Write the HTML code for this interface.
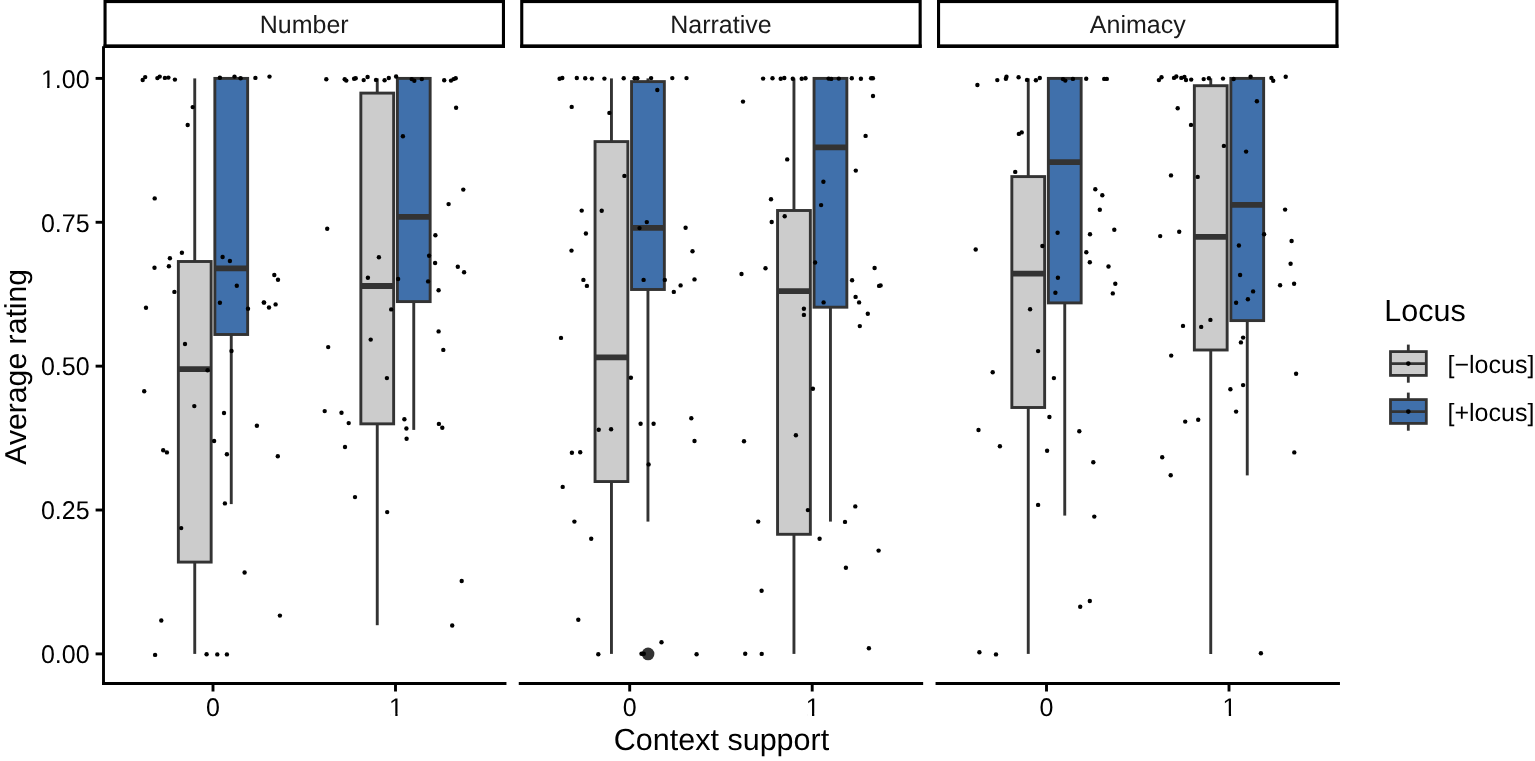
<!DOCTYPE html><html><head><meta charset="utf-8"><style>html,body{margin:0;padding:0;background:#fff;}svg{display:block;}text{font-family:"Liberation Sans",Arial,sans-serif;text-rendering:geometricPrecision;}</style></head><body>
<svg width="1535" height="761" viewBox="0 0 1535 761">
<rect width="1535" height="761" fill="#fff"/>
<g stroke="#333333" stroke-width="2.9" fill="none">
<line x1="194.75" y1="78.4" x2="194.75" y2="261.5"/>
<line x1="194.75" y1="562.1" x2="194.75" y2="653.9"/>
<rect x="178.35" y="261.5" width="32.80" height="300.60" fill="#cccccc"/>
<line x1="178.35" y1="369.2" x2="211.15" y2="369.2" stroke-width="5.80"/>
</g>
<g stroke="#333333" stroke-width="2.9" fill="none">
<line x1="231.25" y1="334.5" x2="231.25" y2="504.1"/>
<rect x="214.85" y="78.4" width="32.80" height="256.10" fill="#4070ab"/>
<line x1="214.85" y1="268.3" x2="247.65" y2="268.3" stroke-width="5.80"/>
</g>
<g stroke="#333333" stroke-width="2.9" fill="none">
<line x1="377.25" y1="78.4" x2="377.25" y2="93.1"/>
<line x1="377.25" y1="423.85" x2="377.25" y2="625.2"/>
<rect x="360.85" y="93.1" width="32.80" height="330.75" fill="#cccccc"/>
<line x1="360.85" y1="286.0" x2="393.65" y2="286.0" stroke-width="5.80"/>
</g>
<g stroke="#333333" stroke-width="2.9" fill="none">
<line x1="413.75" y1="301.6" x2="413.75" y2="429.9"/>
<rect x="397.35" y="78.4" width="32.80" height="223.20" fill="#4070ab"/>
<line x1="397.35" y1="216.8" x2="430.15" y2="216.8" stroke-width="5.80"/>
</g>
<g stroke="#333333" stroke-width="2.9" fill="none">
<line x1="611.45" y1="78.4" x2="611.45" y2="141.6"/>
<line x1="611.45" y1="481.55" x2="611.45" y2="653.9"/>
<rect x="595.05" y="141.6" width="32.80" height="339.95" fill="#cccccc"/>
<line x1="595.05" y1="357.3" x2="627.85" y2="357.3" stroke-width="5.80"/>
</g>
<g stroke="#333333" stroke-width="2.9" fill="none">
<line x1="647.95" y1="78.4" x2="647.95" y2="81.6"/>
<line x1="647.95" y1="289.5" x2="647.95" y2="521.6"/>
<rect x="631.55" y="81.6" width="32.80" height="207.90" fill="#4070ab"/>
<line x1="631.55" y1="227.8" x2="664.35" y2="227.8" stroke-width="5.80"/>
</g>
<g stroke="#333333" stroke-width="2.9" fill="none">
<line x1="793.95" y1="78.4" x2="793.95" y2="210.5"/>
<line x1="793.95" y1="534.3" x2="793.95" y2="653.9"/>
<rect x="777.55" y="210.5" width="32.80" height="323.80" fill="#cccccc"/>
<line x1="777.55" y1="291.2" x2="810.35" y2="291.2" stroke-width="5.80"/>
</g>
<g stroke="#333333" stroke-width="2.9" fill="none">
<line x1="830.45" y1="307.2" x2="830.45" y2="521.6"/>
<rect x="814.05" y="78.4" width="32.80" height="228.80" fill="#4070ab"/>
<line x1="814.05" y1="147.4" x2="846.85" y2="147.4" stroke-width="5.80"/>
</g>
<g stroke="#333333" stroke-width="2.9" fill="none">
<line x1="1028.25" y1="78.4" x2="1028.25" y2="176.6"/>
<line x1="1028.25" y1="407.5" x2="1028.25" y2="653.9"/>
<rect x="1011.85" y="176.6" width="32.80" height="230.90" fill="#cccccc"/>
<line x1="1011.85" y1="273.7" x2="1044.65" y2="273.7" stroke-width="5.80"/>
</g>
<g stroke="#333333" stroke-width="2.9" fill="none">
<line x1="1064.75" y1="302.9" x2="1064.75" y2="515.6"/>
<rect x="1048.35" y="78.4" width="32.80" height="224.50" fill="#4070ab"/>
<line x1="1048.35" y1="162.1" x2="1081.15" y2="162.1" stroke-width="5.80"/>
</g>
<g stroke="#333333" stroke-width="2.9" fill="none">
<line x1="1210.75" y1="78.4" x2="1210.75" y2="85.7"/>
<line x1="1210.75" y1="350.0" x2="1210.75" y2="653.9"/>
<rect x="1194.35" y="85.7" width="32.80" height="264.30" fill="#cccccc"/>
<line x1="1194.35" y1="236.8" x2="1227.15" y2="236.8" stroke-width="5.80"/>
</g>
<g stroke="#333333" stroke-width="2.9" fill="none">
<line x1="1247.25" y1="320.6" x2="1247.25" y2="475.4"/>
<rect x="1230.85" y="78.4" width="32.80" height="242.20" fill="#4070ab"/>
<line x1="1230.85" y1="204.8" x2="1263.65" y2="204.8" stroke-width="5.80"/>
</g>
<circle cx="648.05" cy="653.9" r="6.35" fill="#333333"/>
<g fill="#000">
<circle cx="142.7" cy="80.0" r="2.2"/>
<circle cx="145.2" cy="77.1" r="2.2"/>
<circle cx="157.4" cy="78.1" r="2.2"/>
<circle cx="159.7" cy="76.6" r="2.2"/>
<circle cx="164.9" cy="77.9" r="2.2"/>
<circle cx="168.4" cy="77.6" r="2.2"/>
<circle cx="174.9" cy="79.6" r="2.2"/>
<circle cx="192.7" cy="107.1" r="2.2"/>
<circle cx="187.7" cy="125.0" r="2.2"/>
<circle cx="219.9" cy="77.7" r="2.2"/>
<circle cx="234.5" cy="76.6" r="2.2"/>
<circle cx="240.6" cy="78.2" r="2.2"/>
<circle cx="255.4" cy="77.9" r="2.2"/>
<circle cx="269.5" cy="76.6" r="2.2"/>
<circle cx="154.7" cy="198.4" r="2.2"/>
<circle cx="219.9" cy="302.8" r="2.2"/>
<circle cx="248.0" cy="308.8" r="2.2"/>
<circle cx="264.1" cy="302.6" r="2.2"/>
<circle cx="269.0" cy="307.5" r="2.2"/>
<circle cx="275.6" cy="304.4" r="2.2"/>
<circle cx="185.0" cy="344.0" r="2.2"/>
<circle cx="231.5" cy="351.0" r="2.2"/>
<circle cx="207.6" cy="370.2" r="2.2"/>
<circle cx="194.3" cy="406.1" r="2.2"/>
<circle cx="224.0" cy="413.0" r="2.2"/>
<circle cx="256.9" cy="425.8" r="2.2"/>
<circle cx="181.9" cy="252.7" r="2.2"/>
<circle cx="169.9" cy="258.2" r="2.2"/>
<circle cx="154.5" cy="267.7" r="2.2"/>
<circle cx="168.9" cy="266.2" r="2.2"/>
<circle cx="174.4" cy="291.9" r="2.2"/>
<circle cx="146.0" cy="307.7" r="2.2"/>
<circle cx="222.6" cy="257.0" r="2.2"/>
<circle cx="229.9" cy="261.0" r="2.2"/>
<circle cx="236.8" cy="285.7" r="2.2"/>
<circle cx="278.0" cy="279.7" r="2.2"/>
<circle cx="274.3" cy="275.0" r="2.2"/>
<circle cx="263.8" cy="302.4" r="2.2"/>
<circle cx="144.2" cy="391.3" r="2.2"/>
<circle cx="214.1" cy="441.0" r="2.2"/>
<circle cx="163.2" cy="450.2" r="2.2"/>
<circle cx="166.9" cy="452.4" r="2.2"/>
<circle cx="226.9" cy="454.2" r="2.2"/>
<circle cx="277.8" cy="456.2" r="2.2"/>
<circle cx="224.9" cy="503.4" r="2.2"/>
<circle cx="181.2" cy="528.1" r="2.2"/>
<circle cx="244.6" cy="572.5" r="2.2"/>
<circle cx="161.3" cy="620.5" r="2.2"/>
<circle cx="155.1" cy="654.9" r="2.2"/>
<circle cx="206.6" cy="654.2" r="2.2"/>
<circle cx="217.3" cy="654.4" r="2.2"/>
<circle cx="226.9" cy="654.4" r="2.2"/>
<circle cx="279.9" cy="615.6" r="2.2"/>
<circle cx="326.3" cy="79.3" r="2.2"/>
<circle cx="344.7" cy="79.3" r="2.2"/>
<circle cx="346.3" cy="80.6" r="2.2"/>
<circle cx="354.1" cy="78.8" r="2.2"/>
<circle cx="355.7" cy="78.3" r="2.2"/>
<circle cx="363.7" cy="80.1" r="2.2"/>
<circle cx="367.6" cy="77.0" r="2.2"/>
<circle cx="376.0" cy="79.9" r="2.2"/>
<circle cx="384.6" cy="80.3" r="2.2"/>
<circle cx="388.8" cy="78.0" r="2.2"/>
<circle cx="396.1" cy="76.5" r="2.2"/>
<circle cx="411.7" cy="79.1" r="2.2"/>
<circle cx="414.3" cy="80.8" r="2.2"/>
<circle cx="421.8" cy="79.1" r="2.2"/>
<circle cx="444.2" cy="80.2" r="2.2"/>
<circle cx="451.0" cy="80.6" r="2.2"/>
<circle cx="453.6" cy="79.1" r="2.2"/>
<circle cx="455.7" cy="78.3" r="2.2"/>
<circle cx="456.1" cy="107.7" r="2.2"/>
<circle cx="402.9" cy="136.2" r="2.2"/>
<circle cx="463.3" cy="189.6" r="2.2"/>
<circle cx="448.6" cy="204.1" r="2.2"/>
<circle cx="327.2" cy="228.8" r="2.2"/>
<circle cx="435.4" cy="235.2" r="2.2"/>
<circle cx="378.9" cy="257.2" r="2.2"/>
<circle cx="429.1" cy="255.7" r="2.2"/>
<circle cx="435.1" cy="263.0" r="2.2"/>
<circle cx="457.8" cy="266.7" r="2.2"/>
<circle cx="464.1" cy="272.2" r="2.2"/>
<circle cx="367.9" cy="277.7" r="2.2"/>
<circle cx="398.1" cy="279.0" r="2.2"/>
<circle cx="428.1" cy="281.4" r="2.2"/>
<circle cx="438.6" cy="290.2" r="2.2"/>
<circle cx="391.2" cy="309.4" r="2.2"/>
<circle cx="438.6" cy="331.4" r="2.2"/>
<circle cx="328.2" cy="347.1" r="2.2"/>
<circle cx="370.7" cy="339.6" r="2.2"/>
<circle cx="443.3" cy="349.9" r="2.2"/>
<circle cx="386.9" cy="378.1" r="2.2"/>
<circle cx="324.7" cy="411.1" r="2.2"/>
<circle cx="341.5" cy="412.8" r="2.2"/>
<circle cx="348.7" cy="423.1" r="2.2"/>
<circle cx="404.4" cy="419.3" r="2.2"/>
<circle cx="438.9" cy="423.9" r="2.2"/>
<circle cx="442.3" cy="427.7" r="2.2"/>
<circle cx="406.4" cy="428.5" r="2.2"/>
<circle cx="406.6" cy="438.7" r="2.2"/>
<circle cx="345.0" cy="447.0" r="2.2"/>
<circle cx="355.0" cy="497.1" r="2.2"/>
<circle cx="387.2" cy="512.1" r="2.2"/>
<circle cx="461.7" cy="581.0" r="2.2"/>
<circle cx="452.2" cy="625.5" r="2.2"/>
<circle cx="571.7" cy="106.9" r="2.2"/>
<circle cx="609.4" cy="112.9" r="2.2"/>
<circle cx="657.3" cy="90.0" r="2.2"/>
<circle cx="624.4" cy="175.9" r="2.2"/>
<circle cx="581.7" cy="210.6" r="2.2"/>
<circle cx="601.7" cy="210.8" r="2.2"/>
<circle cx="585.9" cy="233.5" r="2.2"/>
<circle cx="646.8" cy="222.1" r="2.2"/>
<circle cx="639.5" cy="228.1" r="2.2"/>
<circle cx="685.6" cy="227.8" r="2.2"/>
<circle cx="571.5" cy="250.6" r="2.2"/>
<circle cx="692.5" cy="251.2" r="2.2"/>
<circle cx="559.6" cy="78.8" r="2.2"/>
<circle cx="562.3" cy="78.0" r="2.2"/>
<circle cx="576.8" cy="78.0" r="2.2"/>
<circle cx="585.2" cy="78.2" r="2.2"/>
<circle cx="591.9" cy="78.6" r="2.2"/>
<circle cx="604.4" cy="78.6" r="2.2"/>
<circle cx="623.7" cy="78.3" r="2.2"/>
<circle cx="634.6" cy="78.3" r="2.2"/>
<circle cx="637.3" cy="78.3" r="2.2"/>
<circle cx="651.1" cy="78.1" r="2.2"/>
<circle cx="672.3" cy="78.1" r="2.2"/>
<circle cx="686.5" cy="78.1" r="2.2"/>
<circle cx="583.4" cy="279.9" r="2.2"/>
<circle cx="586.9" cy="285.9" r="2.2"/>
<circle cx="643.6" cy="279.9" r="2.2"/>
<circle cx="664.8" cy="279.9" r="2.2"/>
<circle cx="694.5" cy="279.4" r="2.2"/>
<circle cx="680.6" cy="285.4" r="2.2"/>
<circle cx="673.8" cy="291.9" r="2.2"/>
<circle cx="561.0" cy="337.9" r="2.2"/>
<circle cx="630.9" cy="377.8" r="2.2"/>
<circle cx="640.6" cy="423.8" r="2.2"/>
<circle cx="653.6" cy="423.8" r="2.2"/>
<circle cx="691.3" cy="418.3" r="2.2"/>
<circle cx="598.7" cy="429.7" r="2.2"/>
<circle cx="611.1" cy="429.2" r="2.2"/>
<circle cx="694.5" cy="441.0" r="2.2"/>
<circle cx="571.9" cy="452.7" r="2.2"/>
<circle cx="580.2" cy="452.2" r="2.2"/>
<circle cx="648.6" cy="464.4" r="2.2"/>
<circle cx="562.7" cy="486.9" r="2.2"/>
<circle cx="574.4" cy="521.6" r="2.2"/>
<circle cx="591.2" cy="538.8" r="2.2"/>
<circle cx="578.3" cy="619.8" r="2.2"/>
<circle cx="598.3" cy="654.2" r="2.2"/>
<circle cx="661.5" cy="642.3" r="2.2"/>
<circle cx="696.6" cy="654.2" r="2.2"/>
<circle cx="641.5" cy="653.8" r="2.2"/>
<circle cx="643.8" cy="653.8" r="2.2"/>
<circle cx="743.0" cy="101.6" r="2.2"/>
<circle cx="873.0" cy="96.0" r="2.2"/>
<circle cx="865.6" cy="135.9" r="2.2"/>
<circle cx="787.2" cy="159.4" r="2.2"/>
<circle cx="855.8" cy="170.6" r="2.2"/>
<circle cx="823.4" cy="181.8" r="2.2"/>
<circle cx="771.0" cy="199.3" r="2.2"/>
<circle cx="821.1" cy="205.1" r="2.2"/>
<circle cx="784.7" cy="216.3" r="2.2"/>
<circle cx="771.7" cy="222.0" r="2.2"/>
<circle cx="763.1" cy="78.6" r="2.2"/>
<circle cx="772.5" cy="78.3" r="2.2"/>
<circle cx="780.7" cy="78.8" r="2.2"/>
<circle cx="784.3" cy="78.0" r="2.2"/>
<circle cx="792.8" cy="78.8" r="2.2"/>
<circle cx="801.7" cy="78.8" r="2.2"/>
<circle cx="805.5" cy="78.3" r="2.2"/>
<circle cx="828.6" cy="78.6" r="2.2"/>
<circle cx="831.2" cy="78.9" r="2.2"/>
<circle cx="838.8" cy="78.6" r="2.2"/>
<circle cx="851.8" cy="78.3" r="2.2"/>
<circle cx="860.9" cy="78.8" r="2.2"/>
<circle cx="871.1" cy="78.3" r="2.2"/>
<circle cx="872.9" cy="78.3" r="2.2"/>
<circle cx="741.5" cy="274.0" r="2.2"/>
<circle cx="765.5" cy="268.2" r="2.2"/>
<circle cx="815.1" cy="262.5" r="2.2"/>
<circle cx="874.6" cy="268.0" r="2.2"/>
<circle cx="852.1" cy="280.2" r="2.2"/>
<circle cx="880.6" cy="285.4" r="2.2"/>
<circle cx="879.1" cy="285.9" r="2.2"/>
<circle cx="855.6" cy="296.9" r="2.2"/>
<circle cx="859.1" cy="302.4" r="2.2"/>
<circle cx="823.6" cy="302.4" r="2.2"/>
<circle cx="867.8" cy="313.7" r="2.2"/>
<circle cx="859.8" cy="326.1" r="2.2"/>
<circle cx="803.9" cy="308.7" r="2.2"/>
<circle cx="803.9" cy="314.9" r="2.2"/>
<circle cx="812.9" cy="388.8" r="2.2"/>
<circle cx="744.0" cy="441.2" r="2.2"/>
<circle cx="795.9" cy="435.2" r="2.2"/>
<circle cx="807.9" cy="510.1" r="2.2"/>
<circle cx="758.2" cy="521.6" r="2.2"/>
<circle cx="855.3" cy="506.4" r="2.2"/>
<circle cx="845.0" cy="521.9" r="2.2"/>
<circle cx="819.6" cy="538.8" r="2.2"/>
<circle cx="878.6" cy="550.6" r="2.2"/>
<circle cx="845.9" cy="567.8" r="2.2"/>
<circle cx="761.6" cy="590.8" r="2.2"/>
<circle cx="745.2" cy="653.7" r="2.2"/>
<circle cx="761.7" cy="653.9" r="2.2"/>
<circle cx="868.9" cy="648.2" r="2.2"/>
<circle cx="977.4" cy="85.0" r="2.2"/>
<circle cx="1018.9" cy="133.9" r="2.2"/>
<circle cx="1021.7" cy="132.4" r="2.2"/>
<circle cx="1015.2" cy="171.9" r="2.2"/>
<circle cx="1095.3" cy="189.3" r="2.2"/>
<circle cx="1102.3" cy="195.3" r="2.2"/>
<circle cx="1099.8" cy="209.8" r="2.2"/>
<circle cx="1057.6" cy="232.8" r="2.2"/>
<circle cx="1090.0" cy="234.3" r="2.2"/>
<circle cx="1114.3" cy="229.8" r="2.2"/>
<circle cx="975.7" cy="249.5" r="2.2"/>
<circle cx="1042.4" cy="246.0" r="2.2"/>
<circle cx="997.3" cy="80.1" r="2.2"/>
<circle cx="1005.9" cy="78.8" r="2.2"/>
<circle cx="1006.5" cy="76.8" r="2.2"/>
<circle cx="1018.6" cy="77.2" r="2.2"/>
<circle cx="1027.0" cy="79.9" r="2.2"/>
<circle cx="1035.9" cy="80.3" r="2.2"/>
<circle cx="1039.8" cy="78.0" r="2.2"/>
<circle cx="1063.0" cy="79.1" r="2.2"/>
<circle cx="1065.3" cy="80.6" r="2.2"/>
<circle cx="1072.9" cy="78.9" r="2.2"/>
<circle cx="1086.2" cy="78.8" r="2.2"/>
<circle cx="1104.2" cy="78.9" r="2.2"/>
<circle cx="1106.8" cy="78.9" r="2.2"/>
<circle cx="1086.3" cy="252.2" r="2.2"/>
<circle cx="1089.8" cy="262.2" r="2.2"/>
<circle cx="1108.5" cy="266.5" r="2.2"/>
<circle cx="1115.3" cy="283.7" r="2.2"/>
<circle cx="1112.8" cy="293.4" r="2.2"/>
<circle cx="1057.9" cy="277.7" r="2.2"/>
<circle cx="1055.4" cy="292.7" r="2.2"/>
<circle cx="1030.1" cy="309.2" r="2.2"/>
<circle cx="1038.1" cy="351.1" r="2.2"/>
<circle cx="992.7" cy="372.3" r="2.2"/>
<circle cx="1053.9" cy="378.1" r="2.2"/>
<circle cx="1049.4" cy="417.0" r="2.2"/>
<circle cx="978.5" cy="430.0" r="2.2"/>
<circle cx="999.9" cy="446.2" r="2.2"/>
<circle cx="1047.1" cy="450.7" r="2.2"/>
<circle cx="1079.3" cy="431.2" r="2.2"/>
<circle cx="1093.3" cy="462.2" r="2.2"/>
<circle cx="1038.1" cy="504.9" r="2.2"/>
<circle cx="1094.3" cy="516.6" r="2.2"/>
<circle cx="979.4" cy="652.2" r="2.2"/>
<circle cx="996.0" cy="654.4" r="2.2"/>
<circle cx="1080.2" cy="606.7" r="2.2"/>
<circle cx="1089.8" cy="601.0" r="2.2"/>
<circle cx="1177.7" cy="108.2" r="2.2"/>
<circle cx="1191.0" cy="124.9" r="2.2"/>
<circle cx="1223.9" cy="145.9" r="2.2"/>
<circle cx="1246.1" cy="151.6" r="2.2"/>
<circle cx="1256.9" cy="101.2" r="2.2"/>
<circle cx="1171.0" cy="175.4" r="2.2"/>
<circle cx="1197.7" cy="176.9" r="2.2"/>
<circle cx="1285.1" cy="209.6" r="2.2"/>
<circle cx="1160.2" cy="236.1" r="2.2"/>
<circle cx="1179.2" cy="231.8" r="2.2"/>
<circle cx="1264.1" cy="234.2" r="2.2"/>
<circle cx="1291.6" cy="241.0" r="2.2"/>
<circle cx="1238.9" cy="245.5" r="2.2"/>
<circle cx="1158.9" cy="80.1" r="2.2"/>
<circle cx="1161.5" cy="77.2" r="2.2"/>
<circle cx="1174.0" cy="77.9" r="2.2"/>
<circle cx="1176.3" cy="76.5" r="2.2"/>
<circle cx="1181.3" cy="77.9" r="2.2"/>
<circle cx="1184.4" cy="77.0" r="2.2"/>
<circle cx="1186.0" cy="80.0" r="2.2"/>
<circle cx="1191.2" cy="79.6" r="2.2"/>
<circle cx="1203.7" cy="79.1" r="2.2"/>
<circle cx="1208.9" cy="78.2" r="2.2"/>
<circle cx="1223.0" cy="78.6" r="2.2"/>
<circle cx="1233.6" cy="79.0" r="2.2"/>
<circle cx="1250.6" cy="76.7" r="2.2"/>
<circle cx="1271.4" cy="77.9" r="2.2"/>
<circle cx="1273.2" cy="80.8" r="2.2"/>
<circle cx="1285.7" cy="76.7" r="2.2"/>
<circle cx="1290.6" cy="263.7" r="2.2"/>
<circle cx="1240.1" cy="275.0" r="2.2"/>
<circle cx="1280.1" cy="285.2" r="2.2"/>
<circle cx="1294.1" cy="283.7" r="2.2"/>
<circle cx="1253.1" cy="291.4" r="2.2"/>
<circle cx="1247.9" cy="299.2" r="2.2"/>
<circle cx="1236.1" cy="302.7" r="2.2"/>
<circle cx="1210.4" cy="319.9" r="2.2"/>
<circle cx="1201.2" cy="326.9" r="2.2"/>
<circle cx="1183.0" cy="325.9" r="2.2"/>
<circle cx="1243.1" cy="337.6" r="2.2"/>
<circle cx="1240.9" cy="342.4" r="2.2"/>
<circle cx="1171.2" cy="355.6" r="2.2"/>
<circle cx="1296.1" cy="373.8" r="2.2"/>
<circle cx="1243.1" cy="385.1" r="2.2"/>
<circle cx="1230.4" cy="389.3" r="2.2"/>
<circle cx="1236.1" cy="411.6" r="2.2"/>
<circle cx="1185.2" cy="421.6" r="2.2"/>
<circle cx="1198.2" cy="419.8" r="2.2"/>
<circle cx="1162.2" cy="457.2" r="2.2"/>
<circle cx="1170.7" cy="475.2" r="2.2"/>
<circle cx="1294.3" cy="452.4" r="2.2"/>
<circle cx="1260.9" cy="653.2" r="2.2"/>
</g>
<rect x="105.05" y="1.55" width="398.40" height="44.80" fill="#fff" stroke="#000" stroke-width="3.1"/>
<rect x="103.50" y="44.45" width="401.50" height="3.45" fill="#000"/>
<text x="304.25" y="32.8" font-size="25" fill="#1a1a1a" text-anchor="middle">Number</text>
<rect x="521.75" y="1.55" width="398.40" height="44.80" fill="#fff" stroke="#000" stroke-width="3.1"/>
<rect x="520.20" y="44.45" width="401.50" height="3.45" fill="#000"/>
<text x="720.95" y="32.8" font-size="25" fill="#1a1a1a" text-anchor="middle">Narrative</text>
<rect x="938.55" y="1.55" width="398.40" height="44.80" fill="#fff" stroke="#000" stroke-width="3.1"/>
<rect x="937.00" y="44.45" width="401.50" height="3.45" fill="#000"/>
<text x="1137.75" y="32.8" font-size="25" fill="#1a1a1a" text-anchor="middle">Animacy</text>
<g stroke="#000" stroke-width="2.9" fill="none" stroke-linecap="butt">
<line x1="103.5" y1="47.8" x2="103.5" y2="683.5" stroke-linecap="square"/>
<line x1="103.50" y1="683.5" x2="505.00" y2="683.5" stroke-linecap="square"/>
<line x1="213.00" y1="683.5" x2="213.00" y2="691.5"/>
<line x1="395.50" y1="683.5" x2="395.50" y2="691.5"/>
<line x1="520.20" y1="683.5" x2="921.70" y2="683.5" stroke-linecap="square"/>
<line x1="629.70" y1="683.5" x2="629.70" y2="691.5"/>
<line x1="812.20" y1="683.5" x2="812.20" y2="691.5"/>
<line x1="937.00" y1="683.5" x2="1338.50" y2="683.5" stroke-linecap="square"/>
<line x1="1046.50" y1="683.5" x2="1046.50" y2="691.5"/>
<line x1="1229.00" y1="683.5" x2="1229.00" y2="691.5"/>
<line x1="95.6" y1="653.90" x2="103.5" y2="653.90"/>
<line x1="95.6" y1="510.02" x2="103.5" y2="510.02"/>
<line x1="95.6" y1="366.15" x2="103.5" y2="366.15"/>
<line x1="95.6" y1="222.27" x2="103.5" y2="222.27"/>
<line x1="95.6" y1="78.40" x2="103.5" y2="78.40"/>
</g>
<text transform="translate(89.6,663.20) scale(1,1.025)" font-size="25" fill="#000" text-anchor="end">0.00</text>
<text transform="translate(89.6,519.32) scale(1,1.025)" font-size="25" fill="#000" text-anchor="end">0.25</text>
<text transform="translate(89.6,375.45) scale(1,1.025)" font-size="25" fill="#000" text-anchor="end">0.50</text>
<text transform="translate(89.6,231.57) scale(1,1.025)" font-size="25" fill="#000" text-anchor="end">0.75</text>
<text transform="translate(89.6,87.70) scale(1,1.025)" font-size="25" fill="#000" text-anchor="end">1.00</text>
<text transform="translate(213.00,715.7) scale(1,1.025)" font-size="25" fill="#000" text-anchor="middle">0</text>
<text transform="translate(396.00,715.7) scale(1,1.025)" font-size="25" fill="#000" text-anchor="middle">1</text>
<text transform="translate(629.70,715.7) scale(1,1.025)" font-size="25" fill="#000" text-anchor="middle">0</text>
<text transform="translate(812.70,715.7) scale(1,1.025)" font-size="25" fill="#000" text-anchor="middle">1</text>
<text transform="translate(1046.50,715.7) scale(1,1.025)" font-size="25" fill="#000" text-anchor="middle">0</text>
<text transform="translate(1229.50,715.7) scale(1,1.025)" font-size="25" fill="#000" text-anchor="middle">1</text>
<rect x="42.29" y="85.64" width="4.91" height="2.86" fill="#fff"/>
<rect x="49.48" y="85.64" width="5.14" height="2.86" fill="#fff"/>
<rect x="390.39" y="713.64" width="4.91" height="2.86" fill="#fff"/>
<rect x="397.58" y="713.64" width="5.14" height="2.86" fill="#fff"/>
<rect x="807.09" y="713.64" width="4.91" height="2.86" fill="#fff"/>
<rect x="814.28" y="713.64" width="5.14" height="2.86" fill="#fff"/>
<rect x="1223.89" y="713.64" width="4.91" height="2.86" fill="#fff"/>
<rect x="1231.08" y="713.64" width="5.14" height="2.86" fill="#fff"/>
<text x="721.5" y="750.0" font-size="30.5" fill="#000" text-anchor="middle">Context support</text>
<text transform="translate(26.4,366.8) rotate(-90)" font-size="30.2" fill="#000" text-anchor="middle">Average rating</text>
<text x="1384.3" y="321" font-size="30.5" fill="#000">Locus</text>
<g stroke="#333333" stroke-width="2.8">
<line x1="1408.3" y1="344.6" x2="1408.3" y2="382.7"/>
<rect x="1390.5" y="351.6" width="35.8" height="23.8" fill="#cccccc"/>
<line x1="1390.5" y1="363.6" x2="1426.3" y2="363.6"/>
</g>
<circle cx="1408.3" cy="363.6" r="2.3" fill="#000"/>
<text x="1447.5" y="373.4" font-size="25" fill="#000">[−locus]</text>
<g stroke="#333333" stroke-width="2.8">
<line x1="1408.3" y1="392.6" x2="1408.3" y2="430.7"/>
<rect x="1390.5" y="399.6" width="35.8" height="23.8" fill="#4070ab"/>
<line x1="1390.5" y1="411.6" x2="1426.3" y2="411.6"/>
</g>
<circle cx="1408.3" cy="411.6" r="2.3" fill="#000"/>
<text x="1447.5" y="421.4" font-size="25" fill="#000">[+locus]</text>
</svg></body></html>
